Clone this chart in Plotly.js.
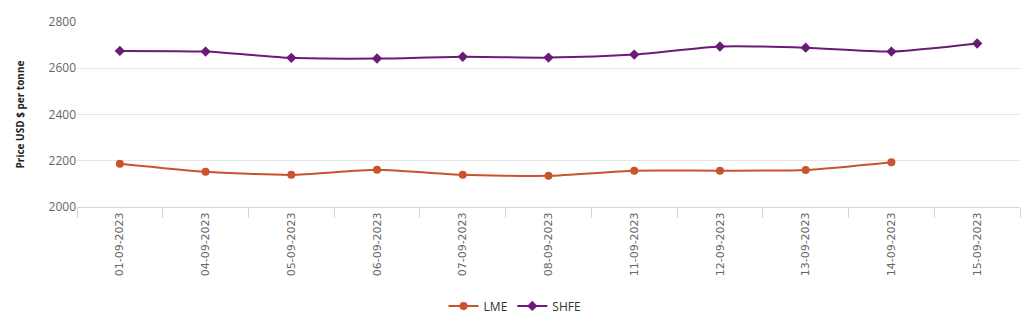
<!DOCTYPE html>
<html>
<head>
<meta charset="utf-8">
<script src="https://cdn.plot.ly/plotly-3.0.1.min.js"></script>
<style>html,body{margin:0;padding:0;background:#fff;}#chart{width:1024px;height:322px;}</style>
</head>
<body>
<div id="chart"></div>
<script>
const categories = ["01-09-2023","04-09-2023","05-09-2023","06-09-2023","07-09-2023","08-09-2023","11-09-2023","12-09-2023","13-09-2023","14-09-2023","15-09-2023"];
const lmeValues = [2187, 2152, 2139, 2161, 2139, 2135, 2157, 2157, 2160, 2194, null];
const shfeValues = [2675, 2672, 2645, 2642, 2650, 2646, 2659, 2694, 2689, 2672, 2707];
const yTicks = [2000, 2200, 2400, 2600, 2800];

const font = "'Open Sans', 'DejaVu Sans', sans-serif";

const traces = [
  {
    x: categories, y: lmeValues, name: "LME", type: "scatter", mode: "lines+markers",
    line: {color: "#c9532d", width: 2, shape: "spline", smoothing: 0.6},
    marker: {symbol: "circle", size: 8, color: "#c9532d"},
    connectgaps: false
  },
  {
    x: categories, y: shfeValues, name: "SHFE", type: "scatter", mode: "lines+markers",
    line: {color: "#6b1a78", width: 2, shape: "spline", smoothing: 0.6},
    marker: {symbol: "diamond", size: 8, color: "#6b1a78"}
  }
];

const layout = {
  width: 1024, height: 322,
  margin: {l: 77, r: 4, t: 22, b: 115},
  paper_bgcolor: "#fff", plot_bgcolor: "#fff",
  font: {family: font, color: "#666666", size: 12},
  showlegend: true,
  legend: {
    orientation: "h", xref: "container", yref: "container",
    x: 0.503, xanchor: "center", y: 0.05, yanchor: "middle",
    font: {family: font, size: 12, color: "#333333"},
    itemwidth: 30, tracegroupgap: 0
  },
  xaxis: {
    type: "category", tickangle: -90, tickson: "boundaries",
    ticks: "outside", ticklen: 10, tickcolor: "#ccd6eb",
    showline: true, linecolor: "#ccd6eb", linewidth: 1,
    showgrid: false, zeroline: false,
    tickfont: {family: "'DejaVu Sans', sans-serif", size: 11, color: "#666666"},
    range: [-0.5, 10.5]
  },
  yaxis: {
    range: [2000, 2800], tickvals: yTicks, ticktext: yTicks.map(String),
    showgrid: true, gridcolor: "#e6e6e6", zeroline: false,
    ticks: "", showline: false,
    tickfont: {family: font, size: 12, color: "#666666"},
    title: {text: "<b>Price USD $ per tonne</b>", font: {family: font, size: 10, color: "#222"}, standoff: 22}
  }
};

Plotly.newPlot("chart", traces, layout, {displayModeBar: false, staticPlot: true});
</script>
</body>
</html>
